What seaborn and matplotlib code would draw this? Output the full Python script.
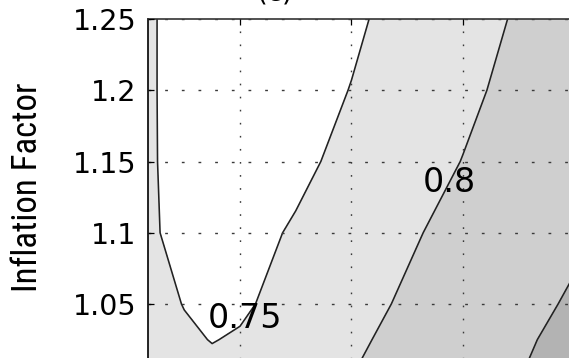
import numpy as np
import matplotlib
matplotlib.use("Agg")
import matplotlib.pyplot as plt
import seaborn as sns
from matplotlib import font_manager
from matplotlib.font_manager import FontProperties

# ---- data ----
x_vals = [0.1175, 0.15, 0.175, 0.2, 0.25, 0.3, 0.35, 0.4, 0.45, 0.5]
y_vals = [1.0, 1.025, 1.05, 1.1, 1.15, 1.2, 1.25]
z_100 = [0.768, 0.762, 0.758, 0.762, 0.781, 0.7995, 0.818, 0.835, 0.849, 0.866]
z_1025 = [0.765, 0.755, 0.749, 0.753, 0.772, 0.793, 0.812, 0.830, 0.844, 0.862]
z_105 = [0.762, 0.749, 0.742, 0.745, 0.763, 0.785, 0.806, 0.825, 0.838, 0.855]
z_110 = [0.756, 0.738, 0.735, 0.737, 0.754, 0.774, 0.794, 0.815, 0.831, 0.843]
z_115 = [0.755, 0.736, 0.732, 0.732, 0.741, 0.761, 0.781, 0.801, 0.822, 0.840]
z_120 = [0.755, 0.735, 0.731, 0.730, 0.735, 0.751, 0.770, 0.791, 0.812, 0.833]
z_125 = [0.755, 0.735, 0.730, 0.728, 0.732, 0.744, 0.763, 0.784, 0.804, 0.825]
levels = [0.70, 0.75, 0.80, 0.85, 0.90]
line_levels = [0.75, 0.80, 0.85]
label_levels = [0.75, 0.80]
ytick_vals = [1.05, 1.1, 1.15, 1.2, 1.25]
ytick_labels = ["1.05", "1.1", "1.15", "1.2", "1.25"]
xtick_vals = [0.2, 0.3, 0.4, 0.5]
y_label = "Inflation Factor"
title_text = "(c)"

sns.set_theme(style="white")
plt.rcParams["font.family"] = ["DejaVu Sans"]

# pick a condensed sans face for the (visually narrow) y label, if one is installed
pref = ["Liberation Sans Narrow", "Roboto Condensed", "DejaVu Sans Condensed",
        "Open Sans Condensed", "Noto Sans Condensed", "Noto Sans", "Open Sans", "Roboto"]
cond = [f for f in font_manager.fontManager.ttflist
        if (f.stretch in ("condensed", "semi-condensed", "extra-condensed")
            or "Narrow" in f.name or "Condensed" in f.name)
        and f.style == "normal" and f.weight in (400, "normal", "regular")
        and "Mono" not in f.name and "Serif" not in f.name]
cond.sort(key=lambda f: pref.index(f.name) if f.name in pref else 99)
if cond:
    ylab_prop = FontProperties(fname=cond[0].fname, size=25)
else:
    ylab_prop = FontProperties(family=["Liberation Sans", "DejaVu Sans"], size=20.5)

X, Y = np.meshgrid(np.array(x_vals), np.array(y_vals))
Z = np.array([z_100, z_1025, z_105, z_110, z_115, z_120, z_125])

W, H = 569, 358
fig = plt.figure(figsize=(W / 100, H / 100), dpi=100)
ax = fig.add_axes([148 / W, (H - 375.25) / H, 426.5 / W, 356.25 / H])

fill_colors = ["#ffffff", "#e4e4e4", "#cfcfcf", "#b3b3b3"]
ax.contourf(X, Y, Z, levels=levels, colors=fill_colors)
cs = ax.contour(X, Y, Z, levels=line_levels, colors="#222222", linewidths=1.15)
texts = ax.clabel(cs, levels=label_levels, inline=False, fontsize=24, colors="black",
                  fmt={0.75: "0.75", 0.80: "0.8"},
                  manual=[(0.2045, 1.040), (0.388, 1.135)])
for t in texts:
    t.set_rotation(0)

ax.set_xlim(x_vals[0], x_vals[-1])
ax.set_ylim(y_vals[0], y_vals[-1])
ax.set_yticks(ytick_vals)
ax.set_yticklabels(ytick_labels)
ax.set_xticks(xtick_vals)
ax.tick_params(axis="both", direction="in", length=4, width=0.9, color="black",
               top=True, right=True, left=True, bottom=True,
               labelsize=20.5, pad=8.5, labelcolor="black",
               labelbottom=False)

ax.set_axisbelow(False)
ax.xaxis.grid(True, linestyle=(0, (1.2, 8.2)), color="#3a3a3a", linewidth=1.0)
ax.yaxis.grid(True, linestyle=(0, (2.0, 10.0)), color="#3a3a3a", linewidth=1.0)

for side, sp in ax.spines.items():
    sp.set_visible(True)
    sp.set_color("black" if side == "left" else "#333333")
    sp.set_linewidth(1.2)

ax.set_ylabel(y_label, fontproperties=ylab_prop, color="black")
ax.yaxis.set_label_coords((44 - 148) / 426.5, (375.25 - 187) / 356.25)

fig.text(275 / W, 1 - 1.0 / H, title_text, ha="center", va="baseline", fontsize=20, color="black")

fig.savefig("out.png", dpi=100)
